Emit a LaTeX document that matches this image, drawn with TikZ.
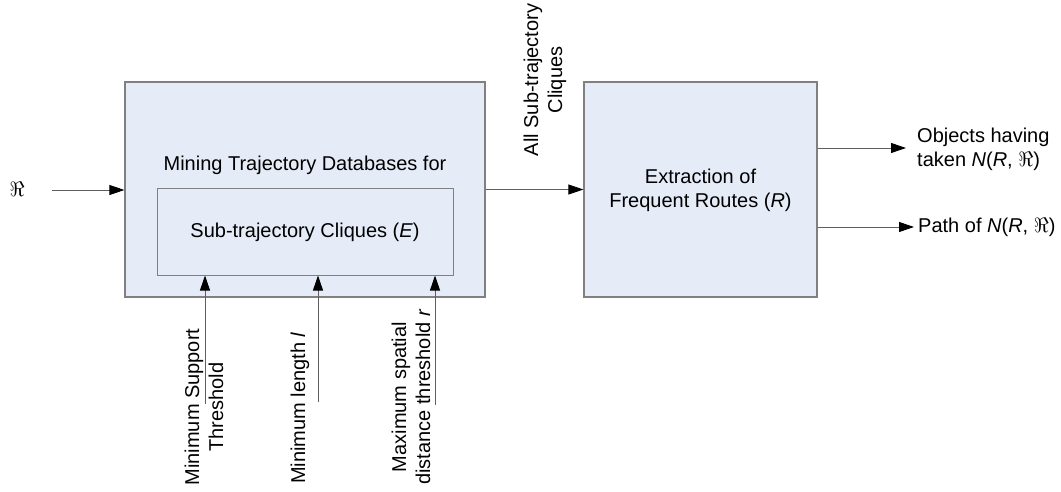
\documentclass[tikz,border=0pt]{standalone}
\usepackage{fontspec}
\setmainfont{Liberation Sans}
\usetikzlibrary{arrows.meta}
\definecolor{boxfill}{RGB}{230,236,247}
\definecolor{boxline}{RGB}{128,128,128}
\definecolor{wire}{RGB}{95,95,95}
\tikzset{
  blk/.style={draw=boxline, line width=1.2pt, fill=boxfill, rectangle, inner sep=0pt},
  txt/.style={font=\fontsize{20}{24}\selectfont, inner sep=0pt, text=black},
  conn/.style={draw=wire, line width=0.9pt, -{Triangle[length=15pt,width=10pt,color=black]}},
}
\begin{document}
\begin{tikzpicture}[x=1pt,y=-1pt]
\useasboundingbox (0,0) rectangle (1061,492);

% main processing box and its nested clique box
\node[blk, minimum width=360pt, minimum height=215pt] (mine) at (305,189.5) {};
\node[txt] (minetxt) at (305,165) {Mining Trajectory Databases for};
\node[blk, line width=1pt, minimum width=296pt, minimum height=86pt, txt] (sub) at (305,232) {Sub-trajectory Cliques (\textit{E})};

% route extraction box
\node[blk, minimum width=233pt, minimum height=215pt] (ext) at (700.5,189.5) {};
\node[txt, align=center] (exttxt) at (700.5,190) {Extraction of\\Frequent Routes (\textit{R})};

% input
\node[txt] (rin) at (17,189) {$\Re$};
\coordinate (rstart) at (52,190);
\draw[conn] (rstart) -- (rstart -| mine.west);

% between the boxes
\draw[conn] (mine.east) -- (ext.west);
\node[txt, rotate=90, align=center] (alltxt) at (545,80) {All Sub-trajectory\\Cliques};

% parameter inputs
\coordinate (p1) at (205,404);
\coordinate (p2) at (318,402);
\coordinate (p3) at (435,405);
\draw[conn] (p1) -- (p1 |- sub.south);
\draw[conn] (p2) -- (p2 |- sub.south);
\draw[conn] (p3) -- (p3 |- sub.south);
\node[txt, rotate=90, align=center] (l1) at (204,407) {Minimum Support\\Threshold};
\node[txt, rotate=90] (l2) at (300,408) {Minimum length \textit{l}};
\node[txt, rotate=90, align=center] (l3) at (411,397) {Maximum spatial\\distance threshold \textit{r}};

% outputs
\coordinate (o1) at (906,148);
\coordinate (o2) at (914,227);
\draw[conn] (o1 -| ext.east) -- (o1);
\draw[conn] (o2 -| ext.east) -- (o2);
\node[txt, align=left, anchor=west] (out1) at (917,149) {Objects having\\taken \textit{N}(\textit{R}, $\Re$)};
\node[txt, anchor=west] (out2) at (918,227) {Path of \textit{N}(\textit{R}, $\Re$)};
\end{tikzpicture}
\end{document}
